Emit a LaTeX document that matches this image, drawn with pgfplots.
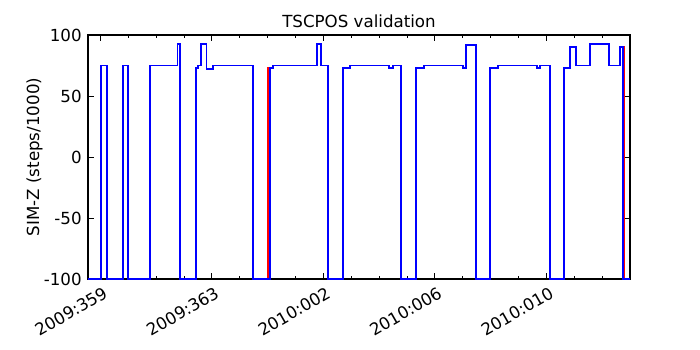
\documentclass[border=0pt]{standalone}
\usepackage{fontspec}
\setmainfont{DejaVu Sans}
\usepackage{pgfplots}
\pgfplotsset{compat=1.18}

% days counted from 2009:359 (0) on
\pgfplotstableread{
x y
-0.44 -100
0.03 -100
0.03 75
0.23 75
0.23 -100
0.80 -100
0.80 75
1.00 75
1.00 -100
1.78 -100
1.78 75
2.77 75
2.77 93
2.86 93
2.86 -100
3.43 -100
3.43 73
3.50 73
3.50 75
3.60 75
3.60 93
3.81 93
3.81 72
4.06 72
4.06 75
5.47 75
5.47 -100
6.08 -100
6.08 73
6.19 73
6.19 75
7.76 75
7.76 93
7.91 93
7.91 75
8.16 75
8.16 -100
8.71 -100
8.71 73
8.95 73
8.95 75
10.36 75
10.36 73
10.49 73
10.49 75
10.80 75
10.80 -100
11.34 -100
11.34 73
11.60 73
11.60 75
13.00 75
13.00 73
13.13 73
13.13 92
13.47 92
13.47 -100
13.99 -100
13.99 73
14.27 73
14.27 75
15.66 75
15.66 73
15.76 73
15.76 75
16.12 75
16.12 -100
16.63 -100
16.63 73
16.86 73
16.86 90
17.08 90
17.08 75
17.55 75
17.55 93
18.24 93
18.24 75
18.63 75
18.63 90
18.76 90
18.76 -100
19.00 -100
}\bluedata

\pgfplotstableread{
x y
-0.44 -100
0.03 -100
0.03 75
0.25 75
0.25 -100
0.80 -100
0.80 75
1.01 75
1.01 -100
1.78 -100
1.78 75
2.77 75
2.77 93
2.86 93
2.86 -100
3.43 -100
3.43 73
3.50 73
3.50 75
3.60 75
3.60 93
3.81 93
3.81 72
4.06 72
4.06 75
5.48 75
5.48 -100
6.02 -100
6.02 73
6.19 73
6.19 75
7.76 75
7.76 93
7.91 93
7.91 75
8.16 75
8.16 -100
8.71 -100
8.71 73
8.95 73
8.95 75
10.36 75
10.36 73
10.49 73
10.49 75
10.80 75
10.80 -100
11.34 -100
11.34 73
11.60 73
11.60 75
13.00 75
13.00 73
13.13 73
13.13 92
13.48 92
13.48 -100
13.99 -100
13.99 73
14.27 73
14.27 75
15.66 75
15.66 73
15.76 73
15.76 75
16.12 75
16.12 -100
16.63 -100
16.63 73
16.86 73
16.86 90
17.08 90
17.08 75
17.55 75
17.55 93
18.24 93
18.24 75
18.63 75
18.63 90
18.80 90
18.80 -100
19.00 -100
}\reddata

\begin{document}
\begin{tikzpicture}
\useasboundingbox (0,0) rectangle (504pt,252pt);
\begin{axis}[
    at={(63.36pt,51.12pt)}, anchor=south west,
    scale only axis,
    width=390.24pt, height=175.68pt,
    xmin=-0.44, xmax=19.0,
    ymin=-100, ymax=100,
    xtick={0,4,8,12,16},
    xticklabels={2009:359,2009:363,2010:002,2010:006,2010:010},
    minor xtick={1,2,3,5,6,7,9,10,11,13,14,15,17,18},
    ytick={-100,-50,0,50,100},
    tick align=inside,
    major tick length=4pt,
    minor tick length=2pt,
    tick style={black, line width=0.5pt},
    axis line style={line width=0.8pt},
    xticklabel style={rotate=30, anchor=north east, inner sep=1pt, yshift=-4pt},
    yticklabel style={xshift=-1pt},
    ticklabel style={font=\fontsize{12}{14}\selectfont},
    /pgf/number format/assume math mode=true,
    title={TSCPOS validation},
    title style={font=\fontsize{12}{14}\selectfont, yshift=-4pt},
    ylabel={SIM-Z (steps/1000)},
    ylabel style={font=\fontsize{12}{14}\selectfont, yshift=-6pt},
]
\addplot[red, line width=1.4pt] table {\reddata};
\addplot[blue, line width=1.4pt] table {\bluedata};
\end{axis}
\end{tikzpicture}
\end{document}
